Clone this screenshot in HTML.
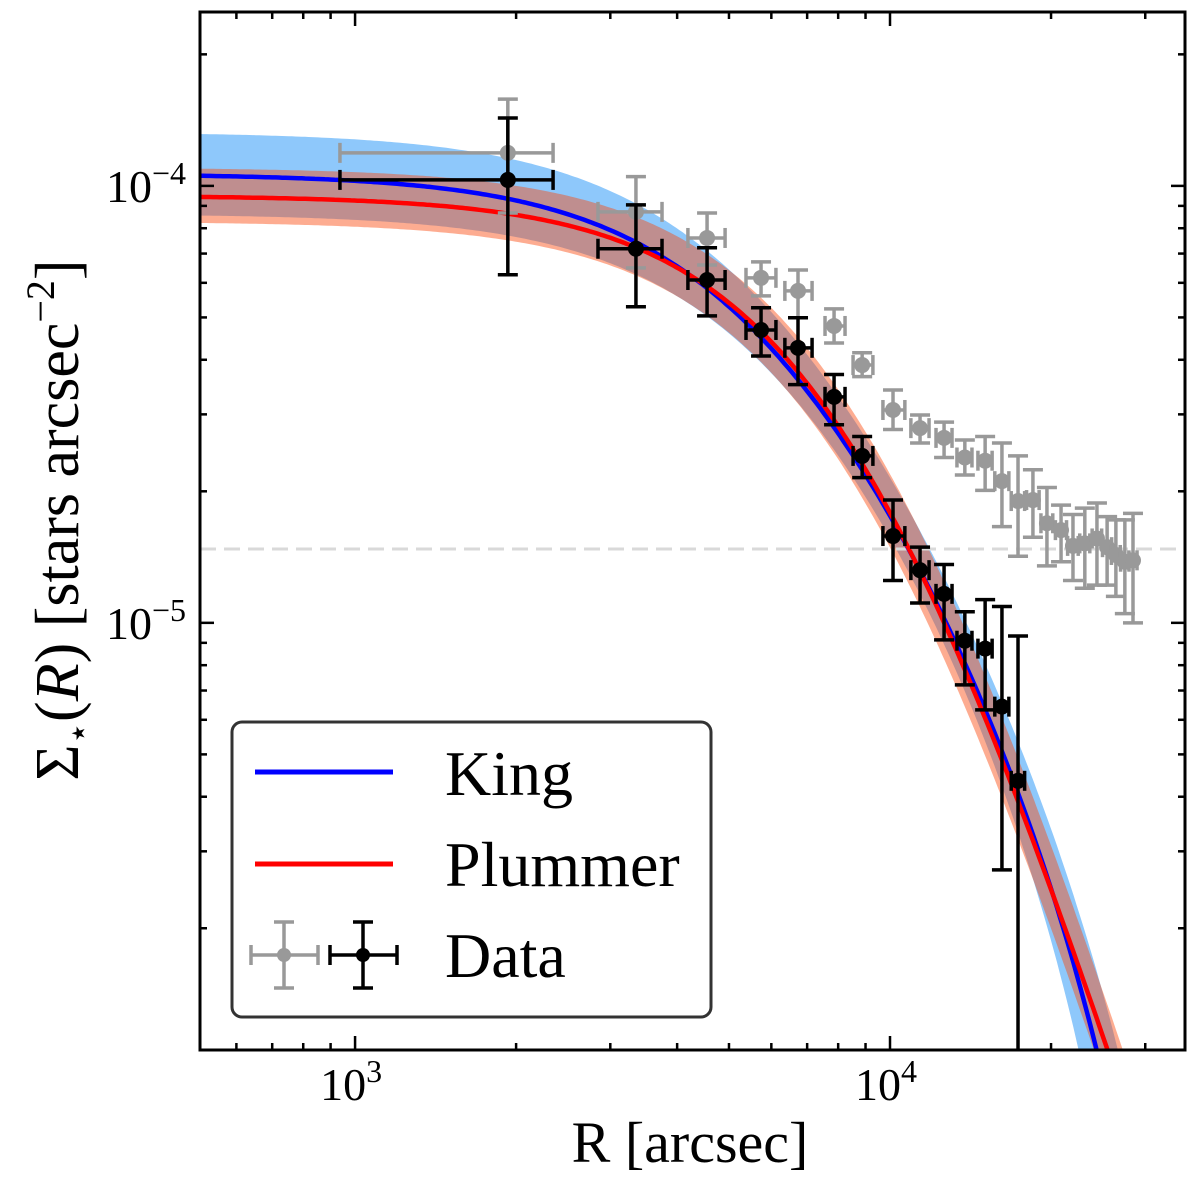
<!DOCTYPE html>
<html><head><meta charset="utf-8"><style>
html,body{margin:0;padding:0;background:#fff;overflow:hidden;width:1200px;height:1191px;}
svg{display:block;font-family:"Liberation Serif","DejaVu Serif",serif;}
</style></head><body>
<svg id="chart" width="1200" height="1191" viewBox="0 0 1200 1191" xmlns="http://www.w3.org/2000/svg">
<defs><clipPath id="plotclip"><rect x="200" y="12" width="985" height="1038"/></clipPath></defs>
<g id="bands" clip-path="url(#plotclip)"></g>
<g id="lines" clip-path="url(#plotclip)"></g>
<g id="grayData" clip-path="url(#plotclip)"></g>
<g id="blackData" clip-path="url(#plotclip)"></g>
<g id="axes"></g>
<g>
  <rect x="232" y="722" width="479" height="295" rx="10" fill="#fff" fill-opacity="0.85" stroke="#333" stroke-width="3"/>
  <line x1="255" y1="772" x2="393" y2="772" stroke="#0000ff" stroke-width="5"/>
  <text x="445" y="795" font-size="64">King</text>
  <line x1="255" y1="864" x2="393" y2="864" stroke="#ff0000" stroke-width="5"/>
  <text x="445" y="886" font-size="64">Plummer</text>
  <g stroke="#999" stroke-width="3.5" fill="#999">
    <line x1="251" y1="955" x2="318" y2="955"/><line x1="251" y1="945" x2="251" y2="965"/><line x1="318" y1="945" x2="318" y2="965"/>
    <line x1="284" y1="922" x2="284" y2="988"/><line x1="274" y1="922" x2="294" y2="922"/><line x1="274" y1="988" x2="294" y2="988"/>
    <circle cx="284" cy="955" r="7" stroke="none"/>
  </g>
  <g stroke="#000" stroke-width="3.5" fill="#000">
    <line x1="330" y1="955" x2="397" y2="955"/><line x1="330" y1="945" x2="330" y2="965"/><line x1="397" y1="945" x2="397" y2="965"/>
    <line x1="363" y1="922" x2="363" y2="988"/><line x1="353" y1="922" x2="373" y2="922"/><line x1="353" y1="988" x2="373" y2="988"/>
    <circle cx="363" cy="955" r="7" stroke="none"/>
  </g>
  <text x="445" y="977" font-size="64">Data</text>
</g>
<text x="690" y="1162" font-size="58" text-anchor="middle">R [arcsec]</text>
<text transform="translate(78,520) rotate(-90)" font-size="62" text-anchor="middle">Σ<tspan font-size="36" dy="12">⋆</tspan><tspan dy="-12">(</tspan><tspan font-style="italic">R</tspan>) [stars arcsec<tspan font-size="40" dy="-24">−2</tspan><tspan dy="24">]</tspan></text>
</svg>
<script>
// ---- data ----
const blackR   = [1930,3350,4550,5740,6730,7860,8870,10130,11380,12620,13800,15060,16190,17350];
const blackRlo = [937,2845,4190,5380,6360,7560,8530,9700,10940,12190,13340,14600,15700,16850];
const blackRhi = [2345,3748,4917,6120,7150,8240,9290,10660,11830,13060,14230,15520,16680,17850];
const blackS   = [1.032e-4,7.18e-5,6.09e-5,4.68e-5,4.26e-5,3.29e-5,2.41e-5,1.58e-5,1.32e-5,1.165e-5,9.10e-6,8.73e-6,6.43e-6,4.35e-6];
const blackSlo = [6.26e-5,5.29e-5,5.04e-5,4.08e-5,3.51e-5,2.84e-5,2.15e-5,1.25e-5,1.11e-5,9.14e-6,7.21e-6,6.32e-6,2.72e-6,5e-7];
const blackShi = [1.43e-4,9.05e-5,7.22e-5,5.26e-5,4.99e-5,3.70e-5,2.67e-5,1.91e-5,1.49e-5,1.36e-5,1.06e-5,1.13e-5,1.09e-5,9.33e-6];

const grayR   = [1930,3350,4550,5740,6730,7860,8870,10130,11380,12620,13800,15060,16190,17350,18500,19650,20880,21980,23130,24370,25460,26440,27480,28460];
const grayRlo = [937,2845,4190,5380,6360,7560,8530,9700,10940,12190,13340,14600,15700,16850,18000,19150,20380,21480,22630,23870,24960,25940,26980,27960];
const grayRhi = [2345,3748,4917,6120,7150,8240,9290,10660,11830,13060,14230,15520,16680,17850,19000,20150,21380,22480,23630,24870,25960,26940,27980,28960];
const grayS   = [1.19e-4,8.72e-5,7.60e-5,6.16e-5,5.75e-5,4.78e-5,3.89e-5,3.07e-5,2.79e-5,2.65e-5,2.39e-5,2.35e-5,2.11e-5,1.90e-5,1.91e-5,1.69e-5,1.63e-5,1.50e-5,1.52e-5,1.56e-5,1.49e-5,1.43e-5,1.38e-5,1.39e-5];
const graySlo = [8.67e-5,6.49e-5,6.59e-5,5.60e-5,4.99e-5,4.37e-5,3.66e-5,2.77e-5,2.58e-5,2.39e-5,2.18e-5,2.01e-5,1.66e-5,1.42e-5,1.57e-5,1.35e-5,1.38e-5,1.25e-5,1.20e-5,1.22e-5,1.22e-5,1.15e-5,1.05e-5,1.00e-5];
const grayShi = [1.58e-4,1.05e-4,8.67e-5,6.70e-5,6.42e-5,5.23e-5,4.15e-5,3.41e-5,2.99e-5,2.88e-5,2.62e-5,2.67e-5,2.58e-5,2.41e-5,2.24e-5,2.04e-5,1.86e-5,1.77e-5,1.83e-5,1.88e-5,1.75e-5,1.72e-5,1.72e-5,1.78e-5];

const backgroundLevel = 1.476e-5;
const kingParams    = [1.065e-4, 5600, 40000];   // sigma0, rc, rt
const plummerParams = [9.5e-5, 8750];            // sigma0, a
const xTickValues = [1000, 10000];
const xTickLabels = ["3", "4"];
const yTickValues = [1e-4, 1e-5];
const yTickLabels = ["−4", "−5"];

// ---- axes ----
const X0=200, X1=1185, Y0=12, Y1=1050;
const lx0=Math.log10(513), lx1=Math.log10(35600);
const ly0=Math.log10(1.053e-6), ly1=Math.log10(2.5e-4);
const xs = v => X0 + (Math.log10(v)-lx0)/(lx1-lx0)*(X1-X0);
const ys = v => Y1 - (Math.log10(v)-ly0)/(ly1-ly0)*(Y1-Y0);
const NS="http://www.w3.org/2000/svg";
function mk(tag, attrs, parent){const e=document.createElementNS(NS,tag);for(const k in attrs)e.setAttribute(k,attrs[k]);parent.appendChild(e);return e;}

function king(R,p){const [s0,rc,rt]=p;const c=1/Math.sqrt(1+(rt/rc)**2);const k0=s0/((1-c)**2);const t=1/Math.sqrt(1+(R/rc)**2)-c;return t>0?k0*t*t:1e-12;}
function plummer(R,p){const [s0,a]=p;return s0/Math.pow(1+(R/a)**2,2);}

const gridR=[];for(let i=0;i<=300;i++)gridR.push(Math.pow(10,lx0+(lx1-lx0)*i/300));
function linePath(f){return gridR.map((r,i)=>(i?'L':'M')+xs(r).toFixed(1)+','+ys(Math.max(f(r),1e-9)).toFixed(1)).join('');}
function bandPath(fu,fl){let d=gridR.map((r,i)=>(i?'L':'M')+xs(r).toFixed(1)+','+ys(Math.max(fu(r),1e-9)).toFixed(1)).join('');
  for(let i=gridR.length-1;i>=0;i--){const r=gridR[i];d+='L'+xs(r).toFixed(1)+','+ys(Math.max(fl(r),1e-9)).toFixed(1);}return d+'Z';}

const bands=document.getElementById('bands');
let b=mk('path',{d:bandPath(r=>king(r,[kingParams[0]*1.247,kingParams[1]*0.96,kingParams[2]*1.12]),r=>king(r,[kingParams[0]*0.81,kingParams[1]*1.1,kingParams[2]*0.88])),fill:'#8ec8fb'},bands);


b=mk('path',{d:bandPath(r=>plummer(r,[plummerParams[0]*1.16,plummerParams[1]*1.025]),r=>plummer(r,[plummerParams[0]*0.872,plummerParams[1]*0.98])),fill:'rgb(250,70,10)','fill-opacity':'0.45'},bands);



const lines=document.getElementById('lines');
let bg=mk('line',{x1:X0,x2:X1,y1:ys(backgroundLevel),y2:ys(backgroundLevel),stroke:'#d9d9d9','stroke-width':3,'stroke-dasharray':'16,8'},lines);


let kl=mk('path',{d:linePath(r=>king(r,kingParams)),fill:'none',stroke:'#0000ff','stroke-width':4.5},lines);


let pl=mk('path',{d:linePath(r=>plummer(r,plummerParams)),fill:'none',stroke:'#ff0000','stroke-width':4.5},lines);



function drawSeries(g,R,Rlo,Rhi,S,Slo,Shi,color,name){
  for(let i=0;i<R.length;i++){
    const grp=mk('g',{stroke:color,'stroke-width':3.5,fill:color},g);
    
    
    const cx=xs(R[i]),cy=ys(S[i]),xa=xs(Rlo[i]),xb=xs(Rhi[i]),ya=ys(Shi[i]),yb=ys(Slo[i]);
    mk('line',{x1:xa,x2:xb,y1:cy,y2:cy},grp);
    mk('line',{x1:xa,x2:xa,y1:cy-10,y2:cy+10},grp);
    mk('line',{x1:xb,x2:xb,y1:cy-10,y2:cy+10},grp);
    mk('line',{x1:cx,x2:cx,y1:ya,y2:yb},grp);
    mk('line',{x1:cx-10,x2:cx+10,y1:ya,y2:ya},grp);
    mk('line',{x1:cx-10,x2:cx+10,y1:yb,y2:yb},grp);
    mk('circle',{cx:cx,cy:cy,r:8,stroke:'none'},grp);
  }
}
drawSeries(document.getElementById('grayData'),grayR,grayRlo,grayRhi,grayS,graySlo,grayShi,'#999999','gray');
drawSeries(document.getElementById('blackData'),blackR,blackRlo,blackRhi,blackS,blackSlo,blackShi,'#000000','black');

// ---- axes frame and ticks ----
const ax=document.getElementById('axes');
let fr=mk('rect',{x:X0,y:Y0,width:X1-X0,height:Y1-Y0,fill:'none',stroke:'#000','stroke-width':3},ax);


for(let e=2;e<=4;e++)for(let m=1;m<10;m++){const v=m*Math.pow(10,e);const x=xs(v);if(x<X0||x>X1)continue;const L=m===1?14:7;
  mk('line',{x1:x,x2:x,y1:Y1,y2:Y1-L,stroke:'#000','stroke-width':2.5},ax);mk('line',{x1:x,x2:x,y1:Y0,y2:Y0+L,stroke:'#000','stroke-width':2.5},ax);}
for(let e=-7;e<=-3;e++)for(let m=1;m<10;m++){const v=m*Math.pow(10,e);const y=ys(v);if(y<Y0||y>Y1)continue;const L=m===1?14:7;
  mk('line',{x1:X0,x2:X0+L,y1:y,y2:y,stroke:'#000','stroke-width':2.5},ax);mk('line',{x1:X1,x2:X1-L,y1:y,y2:y,stroke:'#000','stroke-width':2.5},ax);}
xTickValues.forEach((v,i)=>{const t=mk('text',{x:xs(v)-4,y:1100,'font-size':46,'text-anchor':'middle'},ax);
  
  
  t.textContent='10';const s=mk('tspan',{'font-size':32,dy:-18},t);s.textContent=xTickLabels[i];});
yTickValues.forEach((v,i)=>{const t=mk('text',{x:186,y:ys(v)+16,'font-size':46,'text-anchor':'end'},ax);
  
  
  t.textContent='10';const s=mk('tspan',{'font-size':32,dy:-18},t);s.textContent=yTickLabels[i];});
</script>
</body></html>
